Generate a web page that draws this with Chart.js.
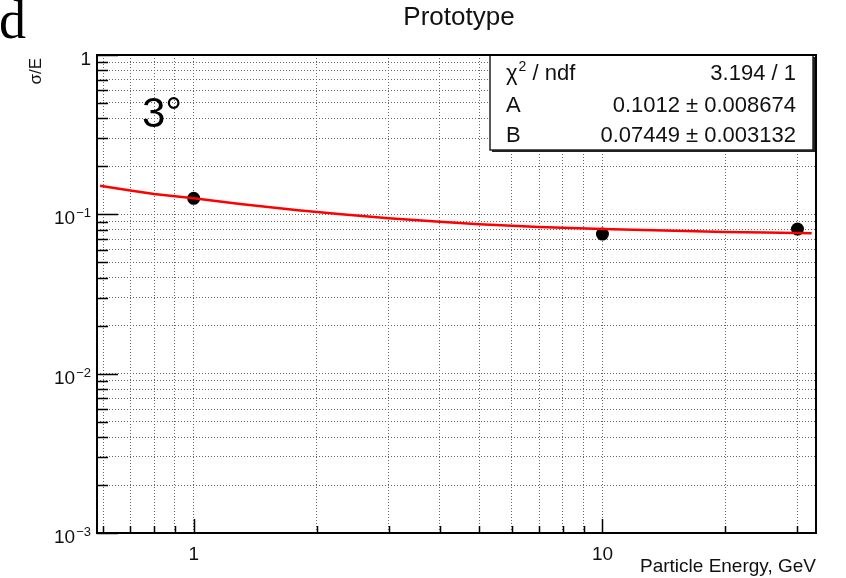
<!DOCTYPE html>
<html>
<head>
<meta charset="utf-8">
<script src="https://cdn.jsdelivr.net/npm/chart.js@4.4.1/dist/chart.umd.min.js"></script>
<style>
  body { margin: 0; background: #fff; }
  #wrap { width: 846px; height: 578px; }
</style>
</head>
<body>
<div id="wrap"><canvas id="reso" width="846" height="578"></canvas></div>
<script>
// measured points: particle energy (GeV) vs energy resolution
var beamEnergy = [1, 10, 30];
var sigmaOverE = [0.126, 0.0752, 0.0808];

// fitted resolution curve
var fitEnergy = [0.59, 0.6, 0.7, 0.8, 0.9, 1, 1.3, 1.8, 2.3, 3, 4, 5, 7, 10, 15, 20, 25, 32.5];
var fitSigma = [0.151, 0.150, 0.141, 0.134, 0.130, 0.126, 0.116, 0.106, 0.100, 0.0945, 0.0898, 0.0868, 0.0832, 0.0808, 0.0788, 0.0776, 0.0768, 0.0762];

// grid / tick positions
var xTickValues = [0.6, 0.7, 0.8, 0.9, 1, 2, 3, 4, 5, 6, 7, 8, 9, 10, 20, 30];
var yTickValues = [];
[0.001, 0.01, 0.1].forEach(function (d) {
    for (var k = 1; k <= 9; k++) yTickValues.push(+(k * d).toPrecision(2));
});
yTickValues.push(1);
var xLabelValues = [1, 10];
var yLabelValues = [1, 0.1, 0.01, 0.001];

// fit box
var statNames = ['χ2 / ndf', 'A', 'B'];
var statValues = ['3.194 / 1', '0.1012 ± 0.008674', '0.07449 ± 0.003132'];

var FONT = '"Liberation Sans", Arial, sans-serif';

function isDecade(v) {
    var l = Math.log10(v);
    return Math.abs(l - Math.round(l)) < 1e-6;
}

var rootStyle = {
    id: 'rootStyle',
    afterDatasetsDraw: function (chart) {
        var ctx = chart.ctx;
        // stats box
        var bx = 490, by = 55, bw = 323, bh = 95;
        ctx.save();
        ctx.fillStyle = '#222';
        ctx.fillRect(bx + 2, by + 2, bw, bh);
        ctx.fillStyle = '#fff';
        ctx.fillRect(bx, by, bw, bh);
        ctx.strokeStyle = '#222';
        ctx.lineWidth = 1.5;
        ctx.strokeRect(bx, by, bw, bh);

        var rows = [80, 112, 142];
        ctx.fillStyle = '#111';
        ctx.font = '22px ' + FONT;
        ctx.textBaseline = 'alphabetic';
        for (var i = 0; i < statNames.length; i++) {
            ctx.textAlign = 'left';
            if (i === 0) {
                ctx.fillText('χ', 506, rows[i]);
                var w = ctx.measureText('χ').width;
                ctx.font = '14px ' + FONT;
                ctx.fillText('2', 506 + w + 1, rows[i] - 9);
                var w2 = ctx.measureText('2').width;
                ctx.font = '22px ' + FONT;
                ctx.fillText(' / ndf', 506 + w + w2 + 1, rows[i]);
            } else {
                ctx.fillText(statNames[i], 506, rows[i]);
            }
            ctx.textAlign = 'right';
            ctx.fillText(statValues[i], 796, rows[i]);
        }
        ctx.restore();
    },
    afterDraw: function (chart) {
        var ctx = chart.ctx;
        var area = chart.chartArea;
        var xs = chart.scales.x, ys = chart.scales.y;
        ctx.save();

        // frame
        ctx.strokeStyle = '#000';
        ctx.lineWidth = 2;
        ctx.strokeRect(area.left, area.top, area.right - area.left, area.bottom - area.top);

        // inside ticks
        ctx.lineWidth = 1.5;
        ctx.beginPath();
        yTickValues.forEach(function (v) {
            var py = Math.round(ys.getPixelForValue(v)) + 0.5;
            var len = isDecade(v) ? 21 : 11;
            ctx.moveTo(area.left, py);
            ctx.lineTo(area.left + len, py);
        });
        xTickValues.forEach(function (v) {
            var px = Math.round(xs.getPixelForValue(v)) + 0.5;
            var len = isDecade(v) ? 14 : 7;
            ctx.moveTo(px, area.bottom);
            ctx.lineTo(px, area.bottom - len);
        });
        ctx.stroke();

        ctx.fillStyle = '#111';
        // x labels
        ctx.font = '19px ' + FONT;
        ctx.textAlign = 'center';
        ctx.textBaseline = 'alphabetic';
        xLabelValues.forEach(function (v) {
            ctx.fillText(String(v), xs.getPixelForValue(v), area.bottom + 27);
        });

        // y labels: 1, 10^-1 ...
        yLabelValues.forEach(function (v) {
            var py = ys.getPixelForValue(v);
            var e = Math.round(Math.log10(v));
            ctx.textAlign = 'right';
            if (e === 0) {
                ctx.font = '19px ' + FONT;
                ctx.fillText('1', 91, py + 10);
                return;
            }
            ctx.font = '13px ' + FONT;
            var sup = '\u2212' + (-e);
            ctx.fillText(sup, 91, py + 3);
            var sw = ctx.measureText(sup).width;
            ctx.font = '19px ' + FONT;
            ctx.fillText('10', 91 - sw - 1, py + 10);
        });

        // axis titles
        ctx.font = '19px ' + FONT;
        ctx.textAlign = 'right';
        ctx.fillText('Particle Energy, GeV', area.right, 572);

        ctx.save();
        ctx.translate(41, area.top + 3);
        ctx.rotate(-Math.PI / 2);
        ctx.font = '17px ' + FONT;
        ctx.textAlign = 'right';
        ctx.fillText('σ/E', 0, 0);
        ctx.restore();

        // title
        ctx.font = '26px ' + FONT;
        ctx.textAlign = 'center';
        ctx.fillText('Prototype', 459, 25);

        // panel letter and angle tag
        ctx.fillStyle = '#000';
        ctx.font = '54px "Liberation Serif", "Times New Roman", serif';
        ctx.textAlign = 'left';
        ctx.fillText('d', -1, 38);
        ctx.font = '42px ' + FONT;
        ctx.fillText('3°', 142, 127);

        ctx.restore();
    }
};

var fitPoints = fitEnergy.map(function (e, i) { return { x: e, y: fitSigma[i] }; });
var dataPoints = beamEnergy.map(function (e, i) { return { x: e, y: sigmaOverE[i] }; });

var gridOpts = { color: '#666', lineWidth: 1, drawTicks: false };
var borderOpts = { display: false, dash: [1, 2] };

new Chart(document.getElementById('reso'), {
    type: 'scatter',
    data: {
        datasets: [{
            label: 'fit',
            data: fitPoints,
            showLine: true,
            borderColor: '#ff0000',
            borderWidth: 2.5,
            pointRadius: 0,
            tension: 0
        }, {
            label: 'data',
            data: dataPoints,
            pointRadius: 6.5,
            pointBackgroundColor: '#000',
            pointBorderColor: '#000',
            pointBorderWidth: 0
        }]
    },
    options: {
        responsive: false,
        animation: false,
        layout: { padding: { left: 97, right: 30, top: 55, bottom: 45 } },
        plugins: { legend: { display: false }, tooltip: { enabled: false } },
        scales: {
            x: {
                type: 'logarithmic',
                min: 0.58,
                max: 33.3,
                afterBuildTicks: function (scale) {
                    scale.ticks = xTickValues.map(function (v) { return { value: v }; });
                },
                ticks: { display: false },
                grid: gridOpts,
                border: borderOpts
            },
            y: {
                type: 'logarithmic',
                min: 0.001,
                max: 1,
                afterBuildTicks: function (scale) {
                    scale.ticks = yTickValues.map(function (v) { return { value: v }; });
                },
                ticks: { display: false },
                grid: gridOpts,
                border: borderOpts
            }
        }
    },
    plugins: [rootStyle]
});
</script>
</body>
</html>
